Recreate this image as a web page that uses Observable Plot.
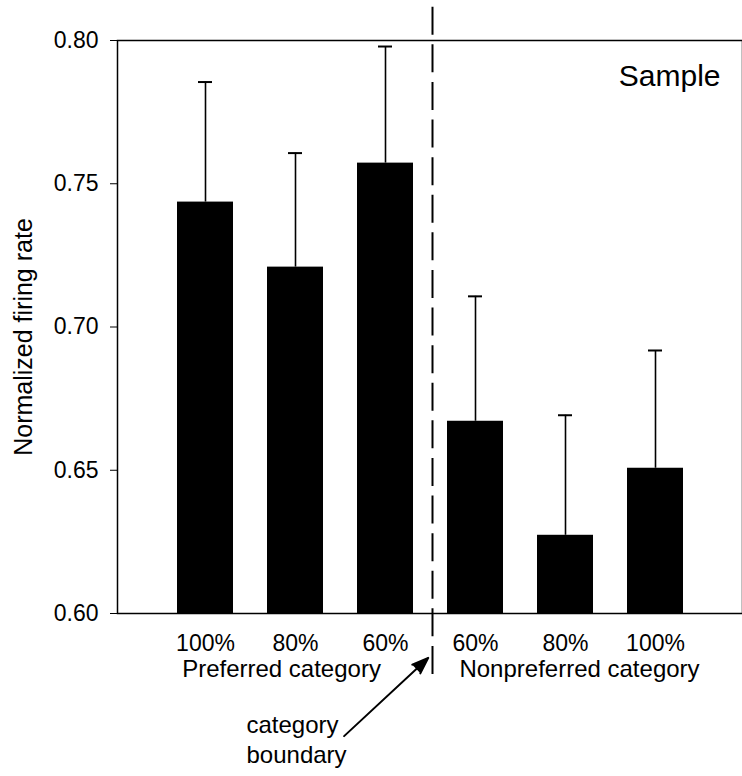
<!DOCTYPE html>
<html><head><meta charset="utf-8">
<script src="https://cdn.jsdelivr.net/npm/d3@7"></script>
<script src="https://cdn.jsdelivr.net/npm/@observablehq/plot@0.6"></script>
<style>body{margin:0;background:#fff}</style>
</head><body><div id="chart"></div>
<script>
const conditions = ["100%", "80%", "60%", "60%", "80%", "100%"];
const groups = ["Preferred category", "Nonpreferred category"];
const means = [0.7436, 0.7209, 0.7572, 0.6671, 0.6273, 0.6507];
const sems = [0.0419, 0.0398, 0.0407, 0.0436, 0.0419, 0.0411];
const yTicks = [0.60, 0.65, 0.70, 0.75, 0.80];
const panelLabel = "Sample";
const yLabel = "Normalized firing rate";
const boundaryLabel = "category\nboundary";

const data = conditions.map((c, i) => ({i, condition: c, mean: means[i], upper: means[i] + sems[i]}));
const font = "'Liberation Sans', Arial, Helvetica, sans-serif";

const chart = Plot.plot({
  width: 742, height: 776,
  marginTop: 40, marginBottom: 163, marginLeft: 117, marginRight: 0,
  style: {fontFamily: font, fontSize: "23px", color: "black", background: "white"},
  x: {type: "band", domain: d3.range(conditions.length), paddingInner: 0.38, paddingOuter: 0.66,
      tickSize: 0, tickPadding: 21, tickFormat: i => conditions[i], label: null},
  y: {domain: [0.6, 0.8], ticks: yTicks, tickFormat: ".2f", tickSize: 7, tickPadding: 12, label: null},
  marks: [
    Plot.barY(data, {x: "i", y1: 0.6, y2: "mean", fill: "black"}),
    Plot.ruleX(data, {x: "i", y1: "mean", y2: "upper", stroke: "black", strokeWidth: 1.6}),
    Plot.tickY(data, {x: "i", y: "upper", stroke: "black", strokeWidth: 2, insetLeft: 21, insetRight: 21}),
    Plot.frame({stroke: "black", strokeWidth: 1.5}),
    Plot.ruleX([2], {x: d => d, y1: 0.8116, y2: 0.5767, dx: 47, stroke: "black", strokeWidth: 2, strokeDasharray: "28,9.6"}),
    Plot.text([groups[0]], {x: () => 1, text: d => d, frameAnchor: "bottom", lineAnchor: "bottom", dx: -14, dy: 63, fontSize: 24}),
    Plot.text([groups[1]], {x: () => 4, text: d => d, frameAnchor: "bottom", lineAnchor: "bottom", dx: 14, dy: 63, fontSize: 24}),
    Plot.text([boundaryLabel], {x: () => 1, text: d => d, frameAnchor: "bottom", textAnchor: "start", lineAnchor: "bottom", lineHeight: 1.25, dx: -49, dy: 149, fontSize: 24}),
    Plot.arrow([boundaryLabel], {x1: () => 1, x2: () => 2, y1: () => 0.5572, y2: () => 0.5864, dx: 48.6, insetEnd: 8,
      stroke: "black", fill: "black", strokeWidth: 2, headLength: 13, headAngle: 40}),
    Plot.text([panelLabel], {text: d => d, frameAnchor: "top-right", textAnchor: "end", lineAnchor: "bottom", dx: -22, dy: 45, fontSize: 30}),
    Plot.text([yLabel], {text: d => d, frameAnchor: "left", rotate: -90, textAnchor: "middle", lineAnchor: "bottom", dx: -86, dy: 10, fontSize: 25})
  ]
});
document.getElementById("chart").appendChild(chart);
</script>
</body></html>
